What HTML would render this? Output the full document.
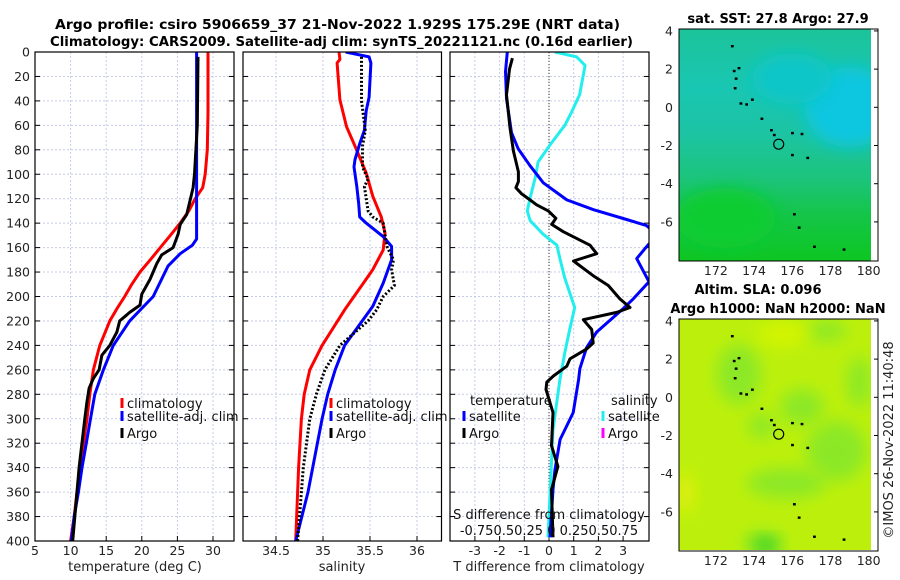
<!DOCTYPE html>
<html><head><meta charset="utf-8"><style>
html,body{margin:0;padding:0;background:#fff;}
svg{display:block;font-family:"DejaVu Sans","Liberation Sans",sans-serif;}
</style></head><body>
<svg id="fig" width="900" height="580" viewBox="0 0 900 580" xmlns="http://www.w3.org/2000/svg">
<defs>
<clipPath id="c1"><rect x="35" y="52" width="199" height="489"/></clipPath>
<clipPath id="c2"><rect x="243" y="52" width="199" height="489"/></clipPath>
<clipPath id="c3"><rect x="450" y="52" width="199" height="489"/></clipPath>
<clipPath id="cm1"><rect x="679" y="29" width="192" height="232"/></clipPath>
<clipPath id="cm2"><rect x="679" y="319" width="192" height="231"/></clipPath>
<linearGradient id="sstg" x1="0" y1="0" x2="0" y2="1">
<stop offset="0" stop-color="#1cc49a"/><stop offset="0.25" stop-color="#19c6b2"/><stop offset="0.45" stop-color="#1cc4a4"/><stop offset="0.65" stop-color="#1cc47a"/><stop offset="0.8" stop-color="#14c548"/><stop offset="1" stop-color="#0ec622"/>
</linearGradient>
<filter id="bl" x="-50%" y="-50%" width="200%" height="200%"><feGaussianBlur stdDeviation="8"/></filter>
</defs>
<g id="titles">
<text x="55" y="29" font-weight="bold" font-size="13.5" textLength="565" lengthAdjust="spacingAndGlyphs">Argo profile: csiro 5906659_37 21-Nov-2022 1.929S 175.29E (NRT data)</text>
<text x="50" y="46" font-weight="bold" font-size="13.5" textLength="583" lengthAdjust="spacingAndGlyphs">Climatology: CARS2009. Satellite-adj clim: synTS_20221121.nc (0.16d earlier)</text>
</g>
<g id="p1"></g>
<g id="p2"></g>
<g id="p3"></g>
<g id="m1"></g>
<g id="m2"></g>
<text transform="translate(893,440) rotate(-90)" text-anchor="middle" font-size="13" fill="#222">©IMOS 26-Nov-2022 11:40:48</text>
</svg>
<script>
// ---------- data ----------
const depthTicks = [0,20,40,60,80,100,120,140,160,180,200,220,240,260,280,300,320,340,360,380,400];
const tempTicks = [5,10,15,20,25,30];
const salTicks = [34.5,35,35.5,36];
const salTickLabels = ["34.5","35","35.5","36"];
const diffTicks = [-3,-2,-1,0,1,2,3];
const climTDepth = [0,50,80,100,111,120,130,140,150,160,170,180,190,200,210,220,240,260,280,300,320,340,360,380,400];
const climTVal = [29.3,29.3,29.2,28.9,28.55,27.5,26.6,25.4,24.0,22.6,21.2,19.75,18.6,17.6,16.5,15.5,14.1,13.2,12.7,12.3,11.8,11.4,10.9,10.5,10.0];
const satTDepth = [0,50,100,153,158,165,175,200,220,240,260,280,300,320,340,360,380,400];
const satTVal = [27.7,27.7,27.7,27.7,27.1,25.4,23.7,21.6,18.3,16.0,14.6,13.4,12.8,12.2,11.6,11.1,10.5,10.1];
const argoTDepth = [4,60,100,111,133,141,149,160,166,173,186,198,207,213,220,229,240,248,260,267,275,286,300,340,400];
const argoTVal = [27.9,27.8,27.4,27.2,26.3,25.4,25.1,24.4,22.8,22.1,21.15,20.0,19.75,18.3,16.9,16.5,15.5,14.4,14.0,13.2,12.6,12.3,12.0,11.2,10.3];
const climSDepth = [0,6,9,39,61,77,99,118,135,148,162,178,189,211,240,260,280,300,340,400];
const climSVal = [35.17,35.18,35.15,35.18,35.25,35.34,35.46,35.53,35.62,35.66,35.64,35.53,35.43,35.23,34.99,34.86,34.8,34.77,34.74,34.71];
const satSDepth = [0,4,9,37,48,64,75,88,94,110,124,135,140,151,159,170,189,208,240,260,280,300,320,360,400];
const satSVal = [35.24,35.49,35.51,35.49,35.46,35.44,35.39,35.34,35.33,35.36,35.38,35.39,35.46,35.64,35.73,35.73,35.64,35.53,35.23,35.13,35.05,34.99,34.94,34.84,34.71];
const argoSDepth = [4,40,64,77,94,104,110,130,135,140,159,170,178,191,200,211,220,240,260,280,300,340,400];
const argoSVal = [35.41,35.41,35.45,35.42,35.42,35.48,35.44,35.48,35.53,35.64,35.68,35.75,35.73,35.76,35.64,35.57,35.48,35.18,35.02,34.93,34.86,34.79,34.73];
const satDTDepth = [0,16,38,66,79,93,107,121,129,137,142,150,158,169,188,202,210,229,242,259,268,295,317,342,358,397];
const satDTVal = [-1.69,-1.76,-1.72,-1.52,-1.25,-0.77,-0.23,0.72,1.8,3.14,3.95,4.4,4.0,3.55,4.05,3.41,3.0,1.93,1.52,1.25,1.2,0.98,0.45,0.24,0.16,0.04];
const argoDTDepth = [5,14,35,62,81,98,106,111,116,121,125,130,136,141,147,158,165,171,183,191,202,209,213,219,227,238,243,251,257,265,270,276,295,322,339,358,397];
const argoDTVal = [-1.48,-1.6,-1.72,-1.58,-1.44,-1.24,-1.24,-1.34,-1.11,-0.77,-0.5,-0.03,0.28,0.11,0.58,1.66,1.93,0.99,1.79,2.4,2.87,3.28,2.74,1.39,1.73,1.79,1.52,0.85,0.72,0.18,-0.09,-0.12,0.16,0.1,0.36,0.1,0.16];
const satDSDepth = [0,4,11,35,49,60,76,90,103,119,130,138,149,158,169,185,209,227,246,268,309,397];
const satDSVal = [0.06,0.28,0.365,0.31,0.23,0.16,0.01,-0.11,-0.14,-0.19,-0.22,-0.19,-0.06,0.08,0.11,0.16,0.26,0.21,0.16,0.11,0.04,-0.01];
const latTicks = [4,2,0,-2,-4,-6];
const lonTicks = [172,174,176,178,180];
const islandLon = [172.85,172.95,173.05,173.2,173.0,173.3,173.6,173.9,174.4,174.9,175.05,176.0,176.5,176.0,176.8,176.1,176.35,177.15,178.7];
const islandLat = [3.2,1.9,1.5,2.05,1.0,0.2,0.15,0.4,-0.6,-1.2,-1.45,-1.35,-1.4,-2.5,-2.65,-5.6,-6.3,-7.3,-7.45];
const floatLon = [175.29];
const floatLat = [-1.93];
// ---------- helpers ----------
const NS='http://www.w3.org/2000/svg';
function mk(tag, parent, attrs){const e=document.createElementNS(NS,tag);for(const k in attrs)e.setAttribute(k,attrs[k]);parent.appendChild(e);return e;}
const yD = d => 52 + d*1.2225;
const x1 = t => 35 + (t-5)*7.12;
const x2 = s => 323 + (s-35)*94;
const x3 = t => 549 + t*24.7;
const x3s = s => 549 + s*98.8;
function pathFrom(xs, ds, fx){return xs.map((v,i)=>(i?'L':'M')+fx(v).toFixed(1)+','+yD(ds[i]).toFixed(1)).join('');}
function frame(g, L, R, xticks, fx, labels, depthLabels, xlabel, cx){
  const grid=mk('g',g,{});
  
  
  depthTicks.forEach(d=>{mk('line',grid,{x1:L,x2:R,y1:yD(d),y2:yD(d),stroke:'#c7cce6','stroke-width':1,'stroke-dasharray':'2,2'});
    mk('line',g,{x1:L,x2:L+5,y1:yD(d),y2:yD(d),stroke:'#000'});mk('line',g,{x1:R-5,x2:R,y1:yD(d),y2:yD(d),stroke:'#000'});
    if(depthLabels){const t=mk('text',g,{x:L-5,y:yD(d)+4.5,'text-anchor':'end','font-size':12.5,fill:'#222'});t.textContent=d;
      
      }
  });
  xticks.forEach((v,i)=>{const x=fx(v);
    mk('line',grid,{x1:x,x2:x,y1:52,y2:541,stroke:'#c7cce6','stroke-width':1,'stroke-dasharray':'2,2'});
    mk('line',g,{x1:x,x2:x,y1:541,y2:536,stroke:'#000'});
    const t=mk('text',g,{x:x,y:555,'text-anchor':'middle','font-size':12.5,fill:'#222'});t.textContent=labels[i];
    
    
  });
  const xl=mk('text',g,{x:cx,y:571,'text-anchor':'middle','font-size':13,fill:'#222'});xl.textContent=xlabel;
  
  
}
function box(g,L,R){const b=mk('rect',g,{x:L,y:52,width:R-L,height:489,fill:'none',stroke:'#000','stroke-width':1.2});
  
  }
function line(g, clip, d, color, w, name, dash){const p=mk('path',g,{d:d,fill:'none',stroke:color,'stroke-width':w,'clip-path':'url(#'+clip+')','stroke-linejoin':'round'});
  if(dash)p.setAttribute('stroke-dasharray',dash);
  
  }
function legend(g, x, y, color, label, name){mk('rect',g,{x:x-1.5,y:y-10,width:3,height:10,fill:color});
  const t=mk('text',g,{x:x+5,y:y,'font-size':13,fill:'#111'});t.textContent=label;
  
  }
// ---------- panel 1 ----------
const p1=document.getElementById('p1');
frame(p1,35,234,tempTicks,x1,tempTicks.map(String),true,'temperature (deg C)',135);
line(p1,'c1',pathFrom(climTVal,climTDepth,x1),'#ff0000',3,'climatology-temperature-line');
line(p1,'c1',pathFrom(satTVal,satTDepth,x1),'#0000ff',3,'satellite-temperature-line');
line(p1,'c1',pathFrom(argoTVal,argoTDepth,x1),'#000',3,'argo-temperature-line');
box(p1,35,234);
legend(p1,122,408,'#ff0000','climatology','legend-climatology');
legend(p1,122,421,'#0000ff','satellite-adj. clim','legend-satellite');
legend(p1,122,438,'#000','Argo','legend-argo');
// ---------- panel 2 ----------
const p2=document.getElementById('p2');
frame(p2,243,441.5,salTicks,x2,salTickLabels,false,'salinity',342);
line(p2,'c2',pathFrom(climSVal,climSDepth,x2),'#ff0000',3,'climatology-salinity-line');
line(p2,'c2',pathFrom(satSVal,satSDepth,x2),'#0000ff',3,'satellite-salinity-line');
line(p2,'c2',pathFrom(argoSVal,argoSDepth,x2),'#000',3,'argo-salinity-line','2,2');
box(p2,243,441.5);
legend(p2,331,408,'#ff0000','climatology','legend-climatology');
legend(p2,331,421,'#0000ff','satellite-adj. clim','legend-satellite');
legend(p2,331,438,'#000','Argo','legend-argo');
// ---------- panel 3 ----------
const p3=document.getElementById('p3');
frame(p3,450,649,diffTicks,x3,diffTicks.map(String),false,'T difference from climatology',549);
mk('line',p3,{x1:549,x2:549,y1:52,y2:541,stroke:'#333','stroke-width':1,'stroke-dasharray':'1,2'});
line(p3,'c3',pathFrom(satDSVal,satDSDepth,x3s),'#22eeee',3,'satellite-salinity-diff-line');
line(p3,'c3',pathFrom(satDTVal,satDTDepth,x3),'#0000ff',3,'satellite-temperature-diff-line');
line(p3,'c3',pathFrom(argoDTVal,argoDTDepth,x3),'#000',3,'argo-temperature-diff-line');
box(p3,450,649);
(function(){const t=mk('text',p3,{x:470,y:405,'font-size':13,fill:'#111'});t.textContent='temperature';
 
 
 const s=mk('text',p3,{x:611,y:405,'font-size':13,fill:'#111'});s.textContent='salinity';
 
 
 const a=mk('text',p3,{x:549,y:519,'text-anchor':'middle','font-size':13,fill:'#111'});a.textContent='S difference from climatology';
 
 
 const b=mk('text',p3,{x:549,y:535,'text-anchor':'middle','font-size':13,fill:'#111'});b.textContent='-0.750.50.25 0 0.250.50.75';
 
 })();
legend(p3,464,421,'#0000ff','satellite','legend-temp-satellite');
legend(p3,464,438,'#000','Argo','legend-temp-argo');
legend(p3,603,421,'#22eeee','satellite','legend-sal-satellite');
legend(p3,603,438,'#ff00ff','Argo','legend-sal-argo');
// ---------- maps ----------
function map(gid, top, clip, title1, title2, isSST){
  const g=document.getElementById(gid);
  const lx = lon => 679 + (lon-170.07)*19.1;
  const ly = lat => top + 2 + (4.1-lat)*19.1 - 2;
  if(isSST){
    mk('rect',g,{x:679,y:top,width:192,height:232,fill:'url(#sstg)'});
    const gg=mk('g',g,{'clip-path':'url(#'+clip+')'});
    mk('ellipse',gg,{cx:lx(179),cy:ly(0),rx:45,ry:40,fill:'#08c6e0',filter:'url(#bl)'});
    mk('ellipse',gg,{cx:lx(176),cy:ly(1.5),rx:40,ry:25,fill:'#10c6c8',filter:'url(#bl)'});
    mk('ellipse',gg,{cx:lx(172.5),cy:ly(-5.8),rx:50,ry:30,fill:'#0ccc30',filter:'url(#bl)'});
  } else {
    mk('rect',g,{x:679,y:top,width:192,height:231,fill:'#bcf00c'});
    const gg=mk('g',g,{'clip-path':'url(#'+clip+')'});
    [[173.2,1.2,22,30],[176.5,-0.5,22,18],[178.3,-2.8,30,30],[179.5,0.8,12,25],[174.4,-1.5,14,12],[175.7,-4.5,40,15],[174.5,-7.6,20,12],[177.8,3.5,20,10]].forEach(e=>{
      mk('ellipse',gg,{cx:lx(e[0]),cy:ly(e[1]),rx:e[2],ry:e[3],fill:'#8ce826',filter:'url(#bl)'});});
    mk('ellipse',gg,{cx:lx(174.6),cy:ly(-7.8),rx:12,ry:8,fill:'#30d020',filter:'url(#bl)'});
    mk('ellipse',gg,{cx:lx(175.5),cy:ly(3.3),rx:25,ry:12,fill:'#d4f400',filter:'url(#bl)'});
    mk('ellipse',gg,{cx:lx(170.4),cy:ly(-5),rx:8,ry:20,fill:'#e2ee10',filter:'url(#bl)'});
  }
  islandLon.forEach((lo,i)=>{const r=mk('rect',g,{x:lx(lo)-1.2,y:ly(islandLat[i])-1.2,width:2.8,height:2.4,fill:'#000'});
    
    });
  floatLon.forEach((lo,i)=>{const c=mk('circle',g,{cx:lx(lo),cy:ly(floatLat[i]),r:5,fill:'none',stroke:'#000','stroke-width':1.2});
    
    });
  const fr=mk('rect',g,{x:679,y:top,width:199,height:232,fill:'none',stroke:'#000','stroke-width':1});
  
  
  latTicks.forEach(la=>{const y=ly(la);
    mk('line',g,{x1:874,x2:878,y1:y,y2:y,stroke:'#000'});
    const t=mk('text',g,{x:673,y:y+4.5,'text-anchor':'end','font-size':12.5,fill:'#222'});t.textContent=la;
    
    });
  lonTicks.forEach(lo=>{const x=lx(lo);
    const t=mk('text',g,{x:x,y:top+246,'text-anchor':'middle','font-size':12.5,fill:'#222'});t.textContent=lo;
    
    });
  if(title2){const a=mk('text',g,{x:758,y:top-25,'text-anchor':'middle','font-size':13,'font-weight':'bold'});a.textContent=title2;
    
    }
  const b=mk('text',g,{x:778,y:top-6,'text-anchor':'middle','font-size':13,'font-weight':'bold'});b.textContent=title1;
  
  
}
map('m1',29,'cm1','sat. SST: 27.8 Argo: 27.9',null,true);
map('m2',319,'cm2','Argo h1000: NaN h2000: NaN','Altim. SLA: 0.096',false);
</script>
</body></html>
